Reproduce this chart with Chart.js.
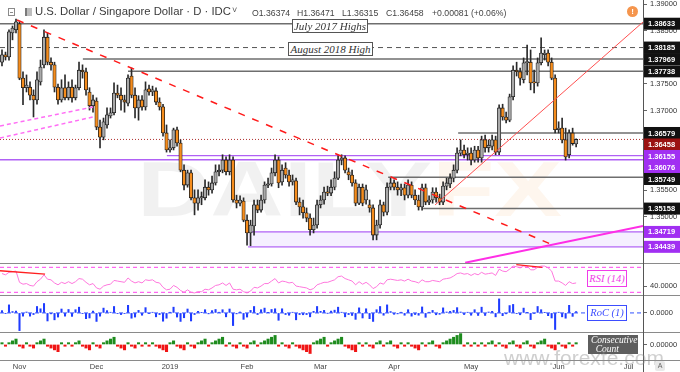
<!DOCTYPE html>
<html><head><meta charset="utf-8">
<script src="https://cdn.jsdelivr.net/npm/chart.js@4.4.1/dist/chart.umd.min.js"></script>
<style>
html,body{margin:0;padding:0;background:#fff;}
#wrap{position:relative;width:680px;height:372px;overflow:hidden;background:#fff;font-family:"Liberation Sans",Arial,sans-serif;}
canvas{position:absolute;left:0;}
.t{position:absolute;white-space:nowrap;line-height:1;}
.box{position:absolute;box-sizing:border-box;font-family:"Liberation Serif","Times New Roman",serif;font-style:italic;white-space:nowrap;text-align:center;background:#fff;}
</style></head><body>
<div id="wrap">
<canvas id="cMain" width="680" height="263" style="top:0"></canvas>
<canvas id="cRsi" width="680" height="32" style="top:263px"></canvas>
<canvas id="cRoc" width="680" height="37" style="top:295px"></canvas>
<canvas id="cCc" width="680" height="40" style="top:332px"></canvas>

<div style="position:absolute;left:8px;top:8px;width:7px;height:8px;border:1px solid #8a8a8a;box-sizing:border-box;"><div style="position:absolute;left:1px;top:3px;width:3px;height:1px;background:#8a8a8a"></div></div>
<div style="position:absolute;left:25px;top:8px;width:7px;height:8px;background:#bdbdbd;border-left:2px solid #7a7a7a;box-sizing:border-box;"></div>
<div class="t" style="left:35px;top:6px;font-size:11.3px;color:#3a3a3a;">U.S. Dollar / Singapore Dollar · D · IDC</div>
<div class="t" style="left:232px;top:6px;font-size:9px;color:#555;">˅</div>
<div class="t" style="left:252px;top:9px;font-size:8.7px;color:#444;">O1.36374</div>
<div class="t" style="left:297px;top:9px;font-size:8.7px;color:#444;">H1.36471</div>
<div class="t" style="left:342px;top:9px;font-size:8.7px;color:#444;">L1.36315</div>
<div class="t" style="left:386px;top:9px;font-size:8.7px;color:#444;">C1.36458</div>
<div class="t" style="left:432px;top:9px;font-size:8.7px;color:#444;">+0.00081 (+0.06%)</div>
<div class="t" style="left:627px;top:6px;width:11px;height:11px;border-radius:50%;background:#f5954d;color:#fff;font-weight:bold;font-size:8px;line-height:11px;text-align:center;">!</div>

<div class="box" style="left:292px;top:19px;width:76px;height:14px;border:1px solid #555;font-size:11px;line-height:12px;color:#333;">July 2017 Highs</div>
<div class="box" style="left:288px;top:42px;width:85px;height:14px;border:1px solid #555;font-size:11px;line-height:12px;color:#333;">August 2018 High</div>
<div class="box" style="left:587px;top:270px;width:40px;height:17px;border:1px solid #f03ce8;color:#f03ce8;font-size:10.5px;line-height:15px;">RSI (14)</div>
<div class="box" style="left:587px;top:305px;width:40px;height:16px;border:1px solid #3d4dff;color:#3d4dff;font-size:10.5px;line-height:14px;">RoC (1)</div>
<div class="box" style="left:588px;top:335px;width:50px;height:19px;background:#5e5e5e;color:#fff;font-size:9.5px;line-height:9px;text-align:left;padding-left:3px;padding-top:1px;">Consecutive<br>&nbsp;&nbsp;Count</div>
<div class="t" style="left:504px;top:347px;font-size:21px;color:rgba(140,140,140,0.42);">www.forexfe.com</div>
<div class="t" style="left:655px;top:361px;width:10px;height:10px;border-radius:2px;background:#e9e9e9;color:#666;font-size:7px;line-height:10px;text-align:center;">A</div>
</div>

<script>
// ---------------- data (USD/SGD daily) ----------------
const X_MIN = -0.57, X_MAX = 183.1;
const monthTickIdx = [5, 27, 48, 70, 91, 112, 134, 159, 179];
const monthLabels = ['Nov', 'Dec', '2019', 'Feb', 'Mar', 'Apr', 'May', 'Jun', 'Jul'];
const priceTicks = [1.345, 1.350, 1.355, 1.360, 1.365, 1.370, 1.375, 1.380, 1.385, 1.390];

const openPrices = [
1.3791,1.3805,1.3801,1.3846,1.3852,1.3863,1.3761,1.3743,1.3744,1.3729,
1.3720,1.3754,1.3786,1.3838,1.3791,1.3786,1.3744,1.3720,1.3743,1.3724,
1.3744,1.3724,1.3743,1.3776,1.3773,1.3735,1.3709,1.3718,1.3669,1.3650,
1.3673,1.3690,1.3696,1.3733,1.3729,1.3720,1.3714,1.3765,1.3729,1.3705,
1.3720,1.3707,1.3741,1.3735,1.3737,1.3716,1.3707,1.3658,1.3626,1.3630,
1.3664,1.3639,1.3588,1.3560,1.3583,1.3536,1.3526,1.3536,1.3536,1.3556,
1.3551,1.3564,1.3585,1.3588,1.3607,1.3585,1.3607,1.3532,1.3526,1.3530,
1.3494,1.3470,1.3483,1.3523,1.3513,1.3532,1.3560,1.3562,1.3583,1.3607,
1.3566,1.3592,1.3579,1.3566,1.3568,1.3528,1.3519,1.3508,1.3498,1.3476,
1.3485,1.3523,1.3532,1.3547,1.3545,1.3556,1.3573,1.3607,1.3611,1.3585,
1.3579,1.3564,1.3526,1.3556,1.3532,1.3523,1.3517,1.3466,1.3485,1.3523,
1.3509,1.3556,1.3564,1.3556,1.3551,1.3555,1.3541,1.3560,1.3541,1.3532,
1.3519,1.3555,1.3528,1.3532,1.3547,1.3536,1.3528,1.3558,1.3562,1.3573,
1.3588,1.3620,1.3626,1.3617,1.3620,1.3607,1.3626,1.3611,1.3645,1.3630,
1.3633,1.3645,1.3622,1.3705,1.3688,1.3682,1.3726,1.3776,1.3773,1.3758,
1.3790,1.3791,1.3754,1.3752,1.3790,1.3805,1.3808,1.3791,1.3761,1.3664,
1.3667,1.3645,1.3617,1.3658,1.36374];
const highPrices = [
1.3814,1.3810,1.3852,1.3859,1.3872,1.3867,1.3773,1.3767,1.3754,1.3739,
1.3773,1.3795,1.3852,1.3846,1.3799,1.3791,1.3750,1.3758,1.3767,1.3754,
1.3758,1.3748,1.3791,1.3786,1.3780,1.3743,1.3729,1.3724,1.3682,1.3686,
1.3705,1.3705,1.3752,1.3748,1.3743,1.3729,1.3767,1.3780,1.3743,1.3728,
1.3728,1.3754,1.3748,1.3746,1.3743,1.3724,1.3712,1.3673,1.3645,1.3667,
1.3669,1.3645,1.3598,1.3588,1.3588,1.3551,1.3551,1.3547,1.3570,1.3566,
1.3577,1.3598,1.3598,1.3617,1.3613,1.3617,1.3613,1.3541,1.3540,1.3536,
1.3504,1.3494,1.3532,1.3532,1.3541,1.3566,1.3573,1.3592,1.3617,1.3613,
1.3598,1.3602,1.3588,1.3579,1.3573,1.3536,1.3532,1.3517,1.3506,1.3498,
1.3532,1.3540,1.3556,1.3558,1.3570,1.3585,1.3615,1.3617,1.3615,1.3592,
1.3588,1.3570,1.3562,1.3562,1.3560,1.3532,1.3523,1.3494,1.3532,1.3528,
1.3564,1.3573,1.3570,1.3566,1.3562,1.3562,1.3570,1.3566,1.3551,1.3541,
1.3562,1.3562,1.3540,1.3555,1.3555,1.3543,1.3566,1.3573,1.3581,1.3598,
1.3630,1.3645,1.3635,1.3630,1.3630,1.3633,1.3633,1.3652,1.3654,1.3645,
1.3654,1.3652,1.3711,1.3712,1.3697,1.3731,1.3784,1.3791,1.3780,1.3799,
1.3823,1.3814,1.3776,1.3799,1.3837,1.3814,1.3814,1.3799,1.3767,1.3679,
1.3686,1.3667,1.3664,1.3667,1.36471];
const lowPrices = [
1.3784,1.3795,1.3795,1.3833,1.3846,1.3758,1.3711,1.3735,1.3720,1.3688,
1.3712,1.3748,1.3780,1.3786,1.3776,1.3735,1.3712,1.3716,1.3720,1.3720,
1.3716,1.3720,1.3739,1.3761,1.3729,1.3701,1.3697,1.3664,1.3630,1.3645,
1.3667,1.3686,1.3692,1.3724,1.3701,1.3697,1.3709,1.3724,1.3686,1.3682,
1.3701,1.3701,1.3729,1.3728,1.3711,1.3701,1.3652,1.3622,1.3622,1.3626,
1.3633,1.3585,1.3551,1.3556,1.3532,1.3504,1.3513,1.3523,1.3532,1.3541,
1.3545,1.3560,1.3577,1.3583,1.3579,1.3579,1.3528,1.3517,1.3521,1.3491,
1.3447,1.3446,1.3466,1.3508,1.3509,1.3526,1.3555,1.3558,1.3577,1.3555,
1.3560,1.3573,1.3558,1.3560,1.3523,1.3504,1.3498,1.3491,1.3466,1.3470,
1.3479,1.3517,1.3524,1.3540,1.3540,1.3551,1.3570,1.3598,1.3583,1.3570,
1.3558,1.3521,1.3523,1.3521,1.3524,1.3509,1.3457,1.3457,1.3479,1.3502,
1.3504,1.3551,1.3551,1.3541,1.3540,1.3532,1.3536,1.3536,1.3523,1.3513,
1.3513,1.3523,1.3523,1.3526,1.3528,1.3523,1.3523,1.3551,1.3555,1.3566,
1.3583,1.3615,1.3611,1.3607,1.3598,1.3603,1.3603,1.3603,1.3622,1.3622,
1.3626,1.3617,1.3617,1.3682,1.3677,1.3679,1.3720,1.3765,1.3748,1.3752,
1.3767,1.3739,1.3733,1.3746,1.3786,1.3795,1.3784,1.3758,1.3658,1.3658,
1.3639,1.3607,1.3611,1.3635,1.36315];
const closePrices = [
1.3805,1.3801,1.3848,1.3855,1.3867,1.3761,1.3743,1.3748,1.3729,1.3720,
1.3758,1.3782,1.3838,1.3791,1.3786,1.3744,1.3720,1.3743,1.3724,1.3744,
1.3724,1.3743,1.3776,1.3773,1.3739,1.3709,1.3720,1.3669,1.3650,1.3679,
1.3692,1.3696,1.3733,1.3729,1.3720,1.3716,1.3761,1.3729,1.3705,1.3720,
1.3707,1.3739,1.3735,1.3739,1.3716,1.3707,1.3658,1.3626,1.3630,1.3664,
1.3639,1.3588,1.3560,1.3583,1.3536,1.3526,1.3536,1.3538,1.3556,1.3551,
1.3564,1.3585,1.3588,1.3607,1.3585,1.3607,1.3532,1.3526,1.3532,1.3494,
1.3470,1.3485,1.3523,1.3513,1.3532,1.3560,1.3562,1.3583,1.3607,1.3564,
1.3588,1.3579,1.3566,1.3570,1.3528,1.3519,1.3508,1.3498,1.3476,1.3485,
1.3523,1.3532,1.3547,1.3545,1.3556,1.3573,1.3607,1.3611,1.3588,1.3579,
1.3564,1.3526,1.3556,1.3526,1.3551,1.3517,1.3466,1.3485,1.3523,1.3509,
1.3556,1.3564,1.3556,1.3551,1.3555,1.3541,1.3560,1.3541,1.3532,1.3519,
1.3555,1.3528,1.3532,1.3547,1.3536,1.3528,1.3558,1.3564,1.3573,1.3588,
1.3620,1.3626,1.3617,1.3620,1.3607,1.3626,1.3611,1.3645,1.3630,1.3635,
1.3645,1.3622,1.3705,1.3688,1.3682,1.3726,1.3776,1.3773,1.3761,1.3790,
1.3791,1.3752,1.3752,1.3790,1.3808,1.3808,1.3791,1.3761,1.3664,1.3667,
1.3645,1.3613,1.3658,1.3638,1.36458];

const rsiValues = [
60,58,62,63,64,46,43,44,41,40, 47,51,58,51,50,45,42,46,44,47,
44,47,52,51,46,42,44,37,35,40, 42,43,49,48,47,46,53,48,45,47,
45,50,49,50,46,45,38,34,35,41, 38,33,30,34,30,29,31,31,35,34,
37,41,42,45,41,45,35,34,35,31, 29,32,38,37,40,44,44,48,52,45,
48,47,45,46,40,39,38,37,34,36, 42,44,46,46,48,50,55,56,52,50,
48,42,47,43,46,42,36,39,45,43, 50,51,50,49,50,48,51,48,47,45,
50,47,47,49,48,47,51,52,53,56, 60,61,59,60,57,60,58,62,59,60,
61,57,67,64,63,67,72,71,69,72, 72,66,66,70,72,72,69,64,48,48,
45,41,47,44,45];
const rocValues = [
0.10,-0.03,0.35,0.06,0.08,-0.77,-0.14,0.04,-0.14,-0.07,
0.28,0.18,0.41,-0.35,-0.04,-0.30,-0.18,0.17,-0.14,0.15,
-0.15,0.14,0.25,-0.03,-0.25,-0.22,0.08,-0.37,-0.14,0.21,
0.10,0.03,0.28,-0.03,-0.07,-0.03,0.33,-0.23,-0.18,0.11,
-0.10,0.23,-0.03,0.03,-0.17,-0.07,-0.36,-0.23,0.03,0.25,
-0.18,-0.37,-0.21,0.17,-0.35,-0.07,0.07,0.01,0.14,-0.04,
0.10,0.15,0.03,0.14,-0.17,0.17,-0.55,-0.04,0.04,-0.28,
-0.18,0.11,0.28,-0.07,0.14,0.21,0.01,0.15,0.18,-0.32,
0.18,-0.07,-0.10,0.03,-0.30,-0.07,-0.08,-0.07,-0.17,0.07,
0.28,0.07,0.11,-0.01,0.08,0.12,0.25,0.03,-0.17,-0.07,
-0.11,-0.28,0.22,-0.22,0.18,-0.25,-0.37,0.14,0.28,-0.10,
0.35,0.06,-0.06,-0.04,0.03,-0.10,0.14,-0.14,-0.07,-0.10,
0.26,-0.19,0.03,0.11,-0.08,-0.06,0.22,0.04,0.07,0.11,
0.23,0.04,-0.07,0.03,-0.10,0.14,-0.11,0.25,-0.11,0.04,
0.07,-0.17,0.61,-0.12,-0.04,0.32,0.37,-0.03,-0.08,0.21,
0.01,-0.29,-0.01,0.28,0.14,0.01,-0.12,-0.22,-0.72,0.03,
-0.17,-0.23,0.33,-0.15,0.06];
const consecutiveCount = [
1,-1,1,2,3,-1,-2,1,-1,-2, 1,2,3,-1,-2,-3,-4,1,-1,1,
-1,1,2,-1,-2,-3,1,-1,-2,1, 2,3,4,-1,-2,-3,1,-1,-2,1,
-1,1,-1,1,-1,-2,-3,-4,1,2, -1,-2,-3,1,-1,-2,1,2,3,-1,
1,2,3,4,-1,1,-1,-2,1,-1, -2,1,2,-1,1,2,3,4,5,-1,
1,-1,-2,1,-1,-2,-3,-4,-5,1, 2,3,4,-1,1,2,3,4,-1,-2,
-3,-4,1,-1,1,-1,-2,1,2,-1, 1,2,-1,-2,1,-1,1,-1,-2,-3,
1,-1,1,2,-1,-2,1,2,3,4, 5,6,-1,1,-1,1,-1,1,-1,1,
2,-1,1,-1,-2,1,2,-1,-2,1, 2,-1,-2,1,2,3,-1,-2,-3,1,
-1,-2,1,-1,1];

// horizontal levels (price, first trading-day index)
const resistancePrices = [1.38633, 1.37969, 1.37738, 1.36579, 1.35749, 1.35158];
const resistanceFrom   = [X_MIN, 23.1, 36, 130.3, 110.3, 120.3];
const aug2018High = 1.38185;
const lastPrice = 1.36458;
const zonePrices = [1.36155, 1.36076];
const zoneFrom   = [47.1, X_MIN];
const supportZone = [1.34719, 1.34439];
const supportFrom = 70.3;

// trend lines (trading-day index, price)
const downTrend = [{x: 4.3, y: 1.38703}, {x: 156.3, y: 1.34504}];
const upTrend = [{x: 123.7, y: 1.35226}, {x: X_MAX, y: 1.38665}];
const pinkChannel = [[{x: X_MIN, y: 1.36711}, {x: 26, y: 1.37068}], [{x: X_MIN, y: 1.36485}, {x: 26, y: 1.36880}]];
const magentaTrend = [{x: 132.3, y: 1.34140}, {x: X_MAX, y: 1.34831}];
const rsiDivergence = [[{x: X_MIN, y: 64.5}, {x: 12.3, y: 59}], [{x: 146.9, y: 74.2}, {x: 154.3, y: 70}]];

// ---------------- chart ----------------
Chart.defaults.font.family = '"Liberation Sans", Arial, sans-serif';
const ORANGE = '#f58c1c', GRAY = '#a9a9a9';
const idx = openPrices.map((_, i) => i);

function baseX(show) {
  return {
    type: 'linear', min: X_MIN, max: X_MAX, offset: false, display: show,
    grid: {display: false, drawTicks: false}, border: {display: false},
    ticks: {autoSkip: false, maxRotation: 0, padding: 2, color: '#444', font: {size: 7.5},
      callback: (v, i) => monthLabels[i]},
    afterBuildTicks: s => { s.ticks = monthTickIdx.map(v => ({value: v})); },
    afterFit: s => { s.height = show ? 12 : 0; s.paddingLeft = 0; s.paddingRight = 0; }
  };
}
function baseY(min, max, tickVals, fmt) {
  return {
    type: 'linear', position: 'right', min, max, beginAtZero: false,
    grid: {drawOnChartArea: false, drawTicks: true, tickLength: 4, color: '#666'},
    border: {display: false},
    ticks: {padding: 3, color: '#333', font: {size: 7.5}, callback: v => fmt(v)},
    afterBuildTicks: s => { s.ticks = tickVals.map(v => ({value: v})); },
    afterFit: s => { s.width = 37; s.paddingTop = 0; s.paddingBottom = 0; }
  };
}
function baseOptions(xShow, yCfg) {
  return {
    responsive: false, animation: false, events: [],
    layout: {padding: 0, autoPadding: false},
    plugins: {legend: {display: false}, tooltip: {enabled: false}},
    scales: {x: baseX(xShow), y: yCfg}
  };
}
function seg(points, color, width, dash, order, extra) {
  return Object.assign({type: 'line', data: points, borderColor: color, borderWidth: width,
    borderDash: dash || [], pointRadius: 0, fill: false, tension: 0, order: order}, extra || {});
}
function hline(from, v, color, width, dash, order, extra) {
  return seg([{x: from, y: v}, {x: X_MAX, y: v}], color, width, dash, order, extra);
}
function paneDecor(bottomLine) {
  return {id: 'paneDecor', afterDraw(chart) {
    const c = chart.ctx, r = chart.chartArea.right + 0.5;
    c.save();
    c.strokeStyle = '#8a8a8a'; c.lineWidth = 1;
    c.beginPath(); c.moveTo(0, 0.5); c.lineTo(chart.width, 0.5);
    if (bottomLine) { const y = chart.chartArea.bottom + 0.5; c.moveTo(0, y); c.lineTo(chart.width, y); }
    c.stroke();
    c.strokeStyle = '#555'; c.beginPath(); c.moveTo(r, 0); c.lineTo(r, chart.height); c.stroke();
    c.restore();
  }};
}

const mainDecor = {
  id: 'mainDecor',
  beforeDatasetsDraw(chart) {
    const c = chart.ctx; c.save();
    c.font = 'bold 78px "Liberation Sans", Arial, sans-serif';
    const w1 = c.measureText('DAILY').width, w2 = c.measureText('FX').width;
    c.translate(137, 216); c.scale(425 / (w1 + w2), 1);
    c.fillStyle = 'rgba(0,0,0,0.055)'; c.fillText('DAILY', 0, 0);
    c.fillStyle = 'rgba(240,140,40,0.08)'; c.fillText('FX', w1, 0);
    c.restore();
  },
  afterDraw(chart) {
    const c = chart.ctx, ys = chart.scales.y, right = chart.chartArea.right;
    const boxes = [
      ...resistancePrices.map(v => ({v, bg: '#111'})),
      {v: aug2018High, bg: '#111'},
      {v: lastPrice, bg: '#9b1212'},
      ...zonePrices.map(v => ({v, bg: '#a12ff2'})),
      ...supportZone.map(v => ({v, bg: '#a12ff2'}))
    ].map(b => Object.assign(b, {y: ys.getPixelForValue(b.v)})).sort((a, b) => a.y - b.y);
    for (let i = 1; i < boxes.length; i++) boxes[i].y = Math.max(boxes[i].y, boxes[i - 1].y + 11.5);
    c.save();
    c.font = 'bold 7.5px "Liberation Sans", Arial, sans-serif';
    c.textBaseline = 'middle';
    boxes.forEach(b => {
      c.fillStyle = b.bg; c.fillRect(right + 1, b.y - 6, chart.width - right - 1, 12);
      c.fillStyle = '#fff'; c.fillText(b.v.toFixed(5), right + 5, b.y + 0.5);
    });
    c.strokeStyle = '#555'; c.lineWidth = 1;
    c.beginPath(); c.moveTo(right + 0.5, 0); c.lineTo(right + 0.5, chart.height); c.stroke();
    c.restore();
  }
};

const zoneFill = 'rgba(200,165,255,0.18)';
new Chart(document.getElementById('cMain'), {
  type: 'bar',
  data: {datasets: [
    seg(downTrend, '#ff1a1a', 1.5, [7, 8], 0),
    seg(upTrend, '#ff5050', 1, [], 0),
    seg(magentaTrend, '#ff2ee6', 2, [], 0),
    seg(pinkChannel[0], '#ff6ef5', 1.5, [4, 3], 0),
    seg(pinkChannel[1], '#ff6ef5', 1.5, [4, 3], 0),
    {type: 'bar', data: idx.map(i => ({x: i, y: [openPrices[i], closePrices[i]]})),
     backgroundColor: idx.map(i => closePrices[i] < openPrices[i] ? ORANGE : GRAY),
     borderColor: '#1c1c1c', borderWidth: 0.8, borderSkipped: false,
     barThickness: 3.4, minBarLength: 1.2, grouped: false, order: 1},
    {type: 'bar', data: idx.map(i => ({x: i, y: [lowPrices[i], highPrices[i]]})),
     backgroundColor: '#2a2a2a', borderWidth: 0, barThickness: 1, grouped: false, order: 2},
    ...resistancePrices.map((v, i) => hline(resistanceFrom[i], v, '#6e6e6e', 1.5, [], 5)),
    hline(X_MIN, aug2018High, '#555', 1, [5, 4], 5),
    hline(X_MIN, lastPrice, '#b03030', 1, [1, 2], 5),
    ...zonePrices.map((v, i) => hline(zoneFrom[i], v, '#b061f5', 1.3, [], 5)),
    hline(supportFrom, supportZone[0], '#b061f5', 1.3, [], 6,
      {fill: {target: {value: supportZone[1]}, above: zoneFill, below: zoneFill}, backgroundColor: zoneFill}),
    hline(supportFrom, supportZone[1], '#b061f5', 1.3, [], 6)
  ]},
  options: baseOptions(false, baseY(1.34135, 1.39079, priceTicks, v => v.toFixed(5))),
  plugins: [mainDecor]
});

new Chart(document.getElementById('cRsi'), {
  type: 'line',
  data: {datasets: [
    seg(idx.map(i => ({x: i, y: rsiValues[i]})), '#ff77dd', 1, [], 1),
    hline(X_MIN, 70, '#ff44ee', 1, [4, 3], 2),
    hline(X_MIN, 30, '#ff44ee', 1, [4, 3], 2),
    seg(rsiDivergence[0], '#ff2020', 1.3, [], 0),
    seg(rsiDivergence[1], '#ff2020', 1.3, [], 0)
  ]},
  options: baseOptions(false, baseY(25.7, 76.9, [40], v => v.toFixed(4))),
  plugins: [paneDecor(false)]
});

new Chart(document.getElementById('cRoc'), {
  type: 'bar',
  data: {datasets: [
    {type: 'bar', data: idx.map(i => ({x: i, y: rocValues[i]})), backgroundColor: '#1f3cff',
     barThickness: 1.4, grouped: false, order: 1},
    hline(X_MIN, 0, '#3050ff', 1, [4, 3], 2)
  ]},
  options: baseOptions(false, baseY(-0.83, 0.78, [0], v => v.toFixed(4))),
  plugins: [paneDecor(false)]
});

new Chart(document.getElementById('cCc'), {
  type: 'bar',
  data: {datasets: [
    {type: 'bar', data: idx.map(i => ({x: i, y: consecutiveCount[i]})),
     backgroundColor: idx.map(i => consecutiveCount[i] > 0 ? '#1e8c1e' : '#f01414'),
     barThickness: 2.4, grouped: false}
  ]},
  options: baseOptions(true, baseY(-8.6, 6.9, [0], v => v.toFixed(5))),
  plugins: [paneDecor(true)]
});
</script>
</body></html>
